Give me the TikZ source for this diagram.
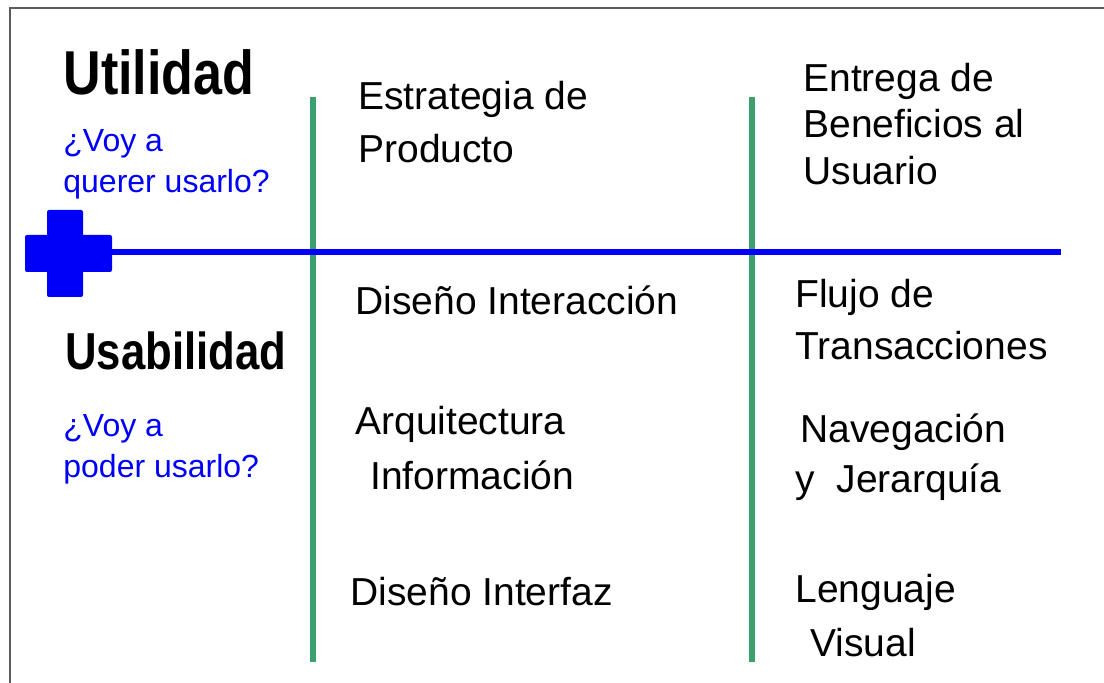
\documentclass[tikz,border=0pt]{standalone}
\usepackage{fontspec}
\setmainfont{Liberation Sans}
\newfontfamily\narrowsans[FakeStretch=0.84]{Liberation Sans}
\definecolor{axisblue}{RGB}{0,0,250}
\definecolor{colgreen}{RGB}{60,160,110}
\definecolor{framegray}{RGB}{90,90,90}

\begin{document}
\begin{tikzpicture}[x=0.5pt,y=-0.5pt]
\useasboundingbox (0,0) rectangle (1104,683);
% frame, only top and left
\draw [framegray,line width=1pt] (1104,8) -- (10,8) -- (10,683);
% column rules
\begin{scope}[every path/.style={draw=colgreen,line width=3pt}]
    \coordinate (G1top) at (313,97);
    \coordinate (G1bot) at (313,662);
    \coordinate (G2top) at (752,97);
    \coordinate (G2bot) at (752,662);
    \path (G1top) -- (G1bot);
    \path (G2top) -- (G2bot);
\end{scope}
% plus sign and axis
\begin{scope}[axisblue]
    \fill [rounded corners=1pt] (25,235) rectangle (112,272);
    \fill [rounded corners=1pt] (47,210) rectangle (83,297);
    \coordinate (plus) at (112,252);
    \coordinate (axisend) at (1061,252);
    \draw [line width=3pt] (plus) -- (axisend);
\end{scope}
% headings
\begin{scope}[every node/.style={anchor=base west,inner sep=0pt}]
    \node [font=\narrowsans\bfseries\fontsize{31pt}{36pt}\selectfont] (U) at (63,95) {Utilidad};
    \node [font=\narrowsans\bfseries\fontsize{26pt}{31pt}\selectfont] (S) at (65,370) {Usabilidad};
\end{scope}
% questions
\begin{scope}[every node/.style={anchor=base west,inner sep=0pt,text=axisblue,
                                 font=\fontsize{16pt}{19pt}\selectfont}]
    \node (Uq1) at (63,152) {¿Voy a};
    \node (Uq2) at (63,193) {querer usarlo?};
    \node (Sq1) at (63,437) {¿Voy a};
    \node (Sq2) at (63,478) {poder usarlo?};
\end{scope}
% cells
\begin{scope}[every node/.style={anchor=base west,inner sep=0pt,
                                 font=\fontsize{19.5pt}{23pt}\selectfont}]
    \node (E1) at (358,110) {Estrategia de};
    \node (E2) at (358,163) {Producto};
    \node (D1) at (355,315) {Diseño Interacción};
    \node (A1) at (355,435) {Arquitectura};
    \node (A2) at (370,490) {Información};
    \node (I1) at (350,606) {Diseño Interfaz};
    \node (B1) at (803,92) {Entrega de};
    \node (B2) at (803,138) {Beneficios al};
    \node (B3) at (803,185) {Usuario};
    \node (F1) at (795,308) {Flujo de};
    \node (F2) at (795,360) {Transacciones};
    \node (N1) at (800,443) {Navegación};
    \node (N2) at (795,493) {y\ \ Jerarquía};
    \node (L1) at (795,603) {Lenguaje};
    \node (L2) at (810,657) {Visual};
\end{scope}
\end{tikzpicture}
\end{document}
